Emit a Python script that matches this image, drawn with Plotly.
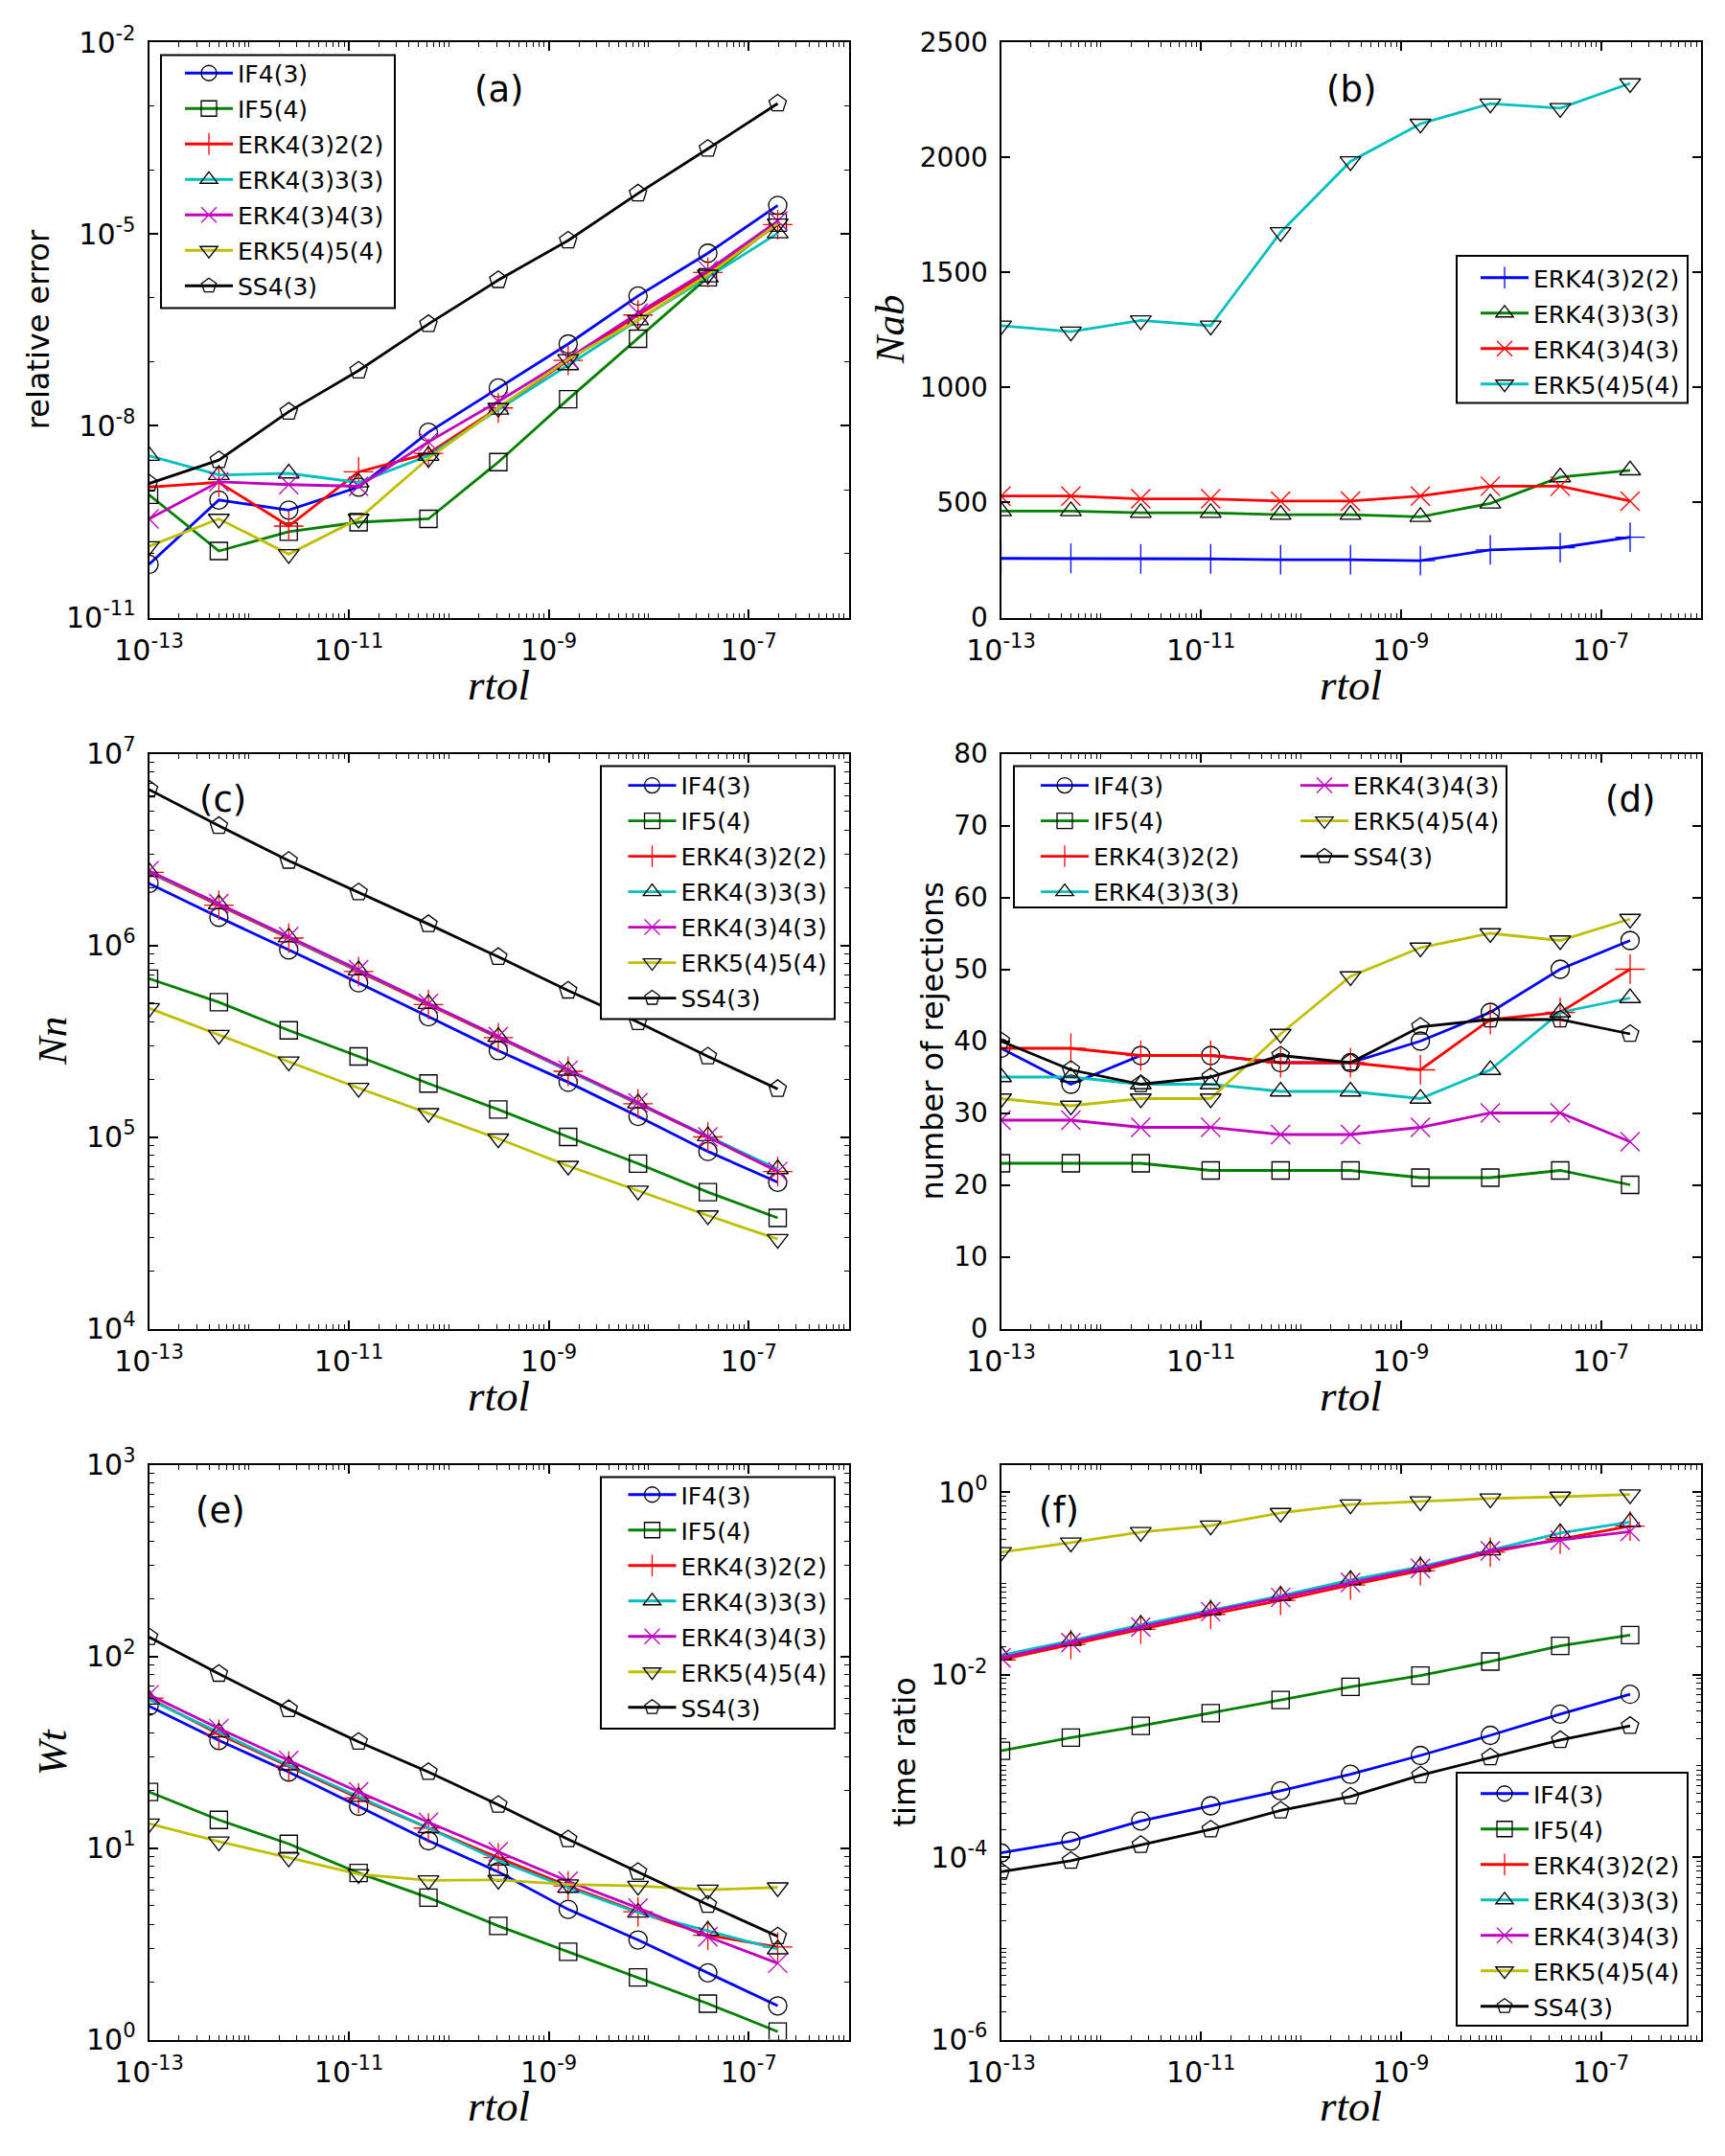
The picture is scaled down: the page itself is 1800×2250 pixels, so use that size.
import plotly.graph_objects as go

# ---------------- data ----------------
rtol = [1e-13, 5e-13, 2.5e-12, 1.25e-11, 6.25e-11, 3.125e-10, 1.5625e-9, 7.8125e-9, 3.90625e-8, 1.953125e-7]

x_tickvals = [1e-13, 1e-11, 1e-9, 1e-7]
x_ticktext = ["10<sup>-13</sup>", "10<sup>-11</sup>", "10<sup>-9</sup>", "10<sup>-7</sup>"]

# (a) relative error
err_if43 = [6.8e-11, 6.9e-10, 4.8e-10, 1.1e-9, 7.9e-9, 3.9e-8, 1.9e-7, 1.07e-6, 5.0e-6, 2.8e-5]
err_if54 = [8.3e-10, 1.1e-10, 2.2e-10, 3.1e-10, 3.5e-10, 2.7e-9, 2.6e-8, 2.3e-7, 2.1e-6, 1.5e-5]
err_erk4322 = [1.1e-9, 1.3e-9, 2.7e-10, 1.9e-9, 3.7e-9, 1.9e-8, 1.05e-7, 5.4e-7, 2.5e-6, 1.4e-5]
err_erk4333 = [3.4e-9, 1.7e-9, 1.8e-9, 1.3e-9, 3.4e-9, 1.8e-8, 8.9e-8, 4.5e-7, 2.1e-6, 1.03e-5]
err_erk4343 = [3.5e-10, 1.33e-9, 1.2e-9, 1.13e-9, 5.6e-9, 2.4e-8, 1.13e-7, 5.8e-7, 2.7e-6, 1.6e-5]
err_erk5454 = [1.3e-10, 3.5e-10, 9.8e-11, 3.5e-10, 3.1e-9, 1.9e-8, 1.1e-7, 4.5e-7, 2.3e-6, 1.45e-5]
err_ss43 = [1.25e-9, 2.9e-9, 1.66e-8, 7.3e-8, 3.9e-7, 1.9e-6, 7.9e-6, 4.3e-5, 2.15e-4, 1.1e-3]
a_tickvals = [1e-11, 1e-8, 1e-5, 1e-2]
a_ticktext = ["10<sup>-11</sup>", "10<sup>-8</sup>", "10<sup>-5</sup>", "10<sup>-2</sup>"]

# (b) Nab
nab_erk4322 = [257, 257, 255, 255, 251, 251, 247, 294, 304, 349]
nab_erk4333 = [463, 463, 455, 455, 447, 447, 438, 496, 610, 640]
nab_erk4343 = [528, 528, 516, 516, 506, 506, 528, 571, 571, 506]
nab_erk5454 = [1268, 1242, 1291, 1268, 1674, 1982, 2145, 2233, 2213, 2321]

# (c) Nn
nn_if43 = [2.1e6, 1.4e6, 9.46e5, 6.37e5, 4.24e5, 2.82e5, 1.93e5, 1.28e5, 8.4e4, 5.8e4]
nn_if54 = [6.7e5, 5.05e5, 3.6e5, 2.63e5, 1.9e5, 1.39e5, 1.0e5, 7.26e4, 5.15e4, 3.78e4]
nn_erk4322 = [2.4e6, 1.62e6, 1.09e6, 7.3e5, 4.9e5, 3.3e5, 2.2e5, 1.49e5, 1.0e5, 6.6e4]
nn_erk4333 = [2.42e6, 1.64e6, 1.1e6, 7.4e5, 4.95e5, 3.33e5, 2.22e5, 1.5e5, 1.01e5, 6.8e4]
nn_erk4343 = [2.45e6, 1.65e6, 1.11e6, 7.45e5, 4.97e5, 3.34e5, 2.23e5, 1.51e5, 1.0e5, 6.6e4]
nn_erk5454 = [4.7e5, 3.4e5, 2.47e5, 1.8e5, 1.33e5, 9.8e4, 7.06e4, 5.24e4, 3.89e4, 2.93e4]
nn_ss43 = [6.5e6, 4.2e6, 2.76e6, 1.89e6, 1.29e6, 8.7e5, 5.8e5, 3.97e5, 2.63e5, 1.78e5]
c_tickvals = [1e4, 1e5, 1e6, 1e7]
c_ticktext = ["10<sup>4</sup>", "10<sup>5</sup>", "10<sup>6</sup>", "10<sup>7</sup>"]

# (d) number of rejections
rej_if43 = [39, 34, 38, 38, 37, 37, 40, 44, 50, 54]
rej_if54 = [23, 23, 23, 22, 22, 22, 21, 21, 22, 20]
rej_erk4322 = [39, 39, 38, 38, 37, 37, 36, 43, 44, 50]
rej_erk4333 = [35, 35, 34, 34, 33, 33, 32, 36, 44, 46]
rej_erk4343 = [29, 29, 28, 28, 27, 27, 28, 30, 30, 26]
rej_erk5454 = [32, 31, 32, 32, 41, 49, 53, 55, 54, 57]
rej_ss43 = [40, 36, 34, 35, 38, 37, 42, 43, 43, 41]

# (e) Wt
wt_if43 = [55, 36.4, 24.9, 16.5, 10.9, 7.5, 4.78, 3.31, 2.23, 1.5]
wt_if54 = [19.6, 14.0, 10.5, 7.4, 5.5, 3.92, 2.87, 2.11, 1.54, 1.1]
wt_erk4322 = [60.5, 39.2, 26.7, 18.2, 12.7, 8.9, 6.33, 4.64, 3.5, 3.04]
wt_erk4333 = [59.5, 40.1, 27.0, 18.5, 12.7, 8.6, 6.2, 4.6, 3.7, 2.96]
wt_erk4343 = [63, 42, 28.6, 19.6, 13.6, 9.55, 6.7, 4.86, 3.44, 2.5]
wt_erk5454 = [13.4, 10.8, 8.9, 7.3, 6.77, 6.81, 6.44, 6.33, 6.05, 6.22]
wt_ss43 = [126, 81, 53, 35.8, 24.9, 16.8, 11.1, 7.5, 5.05, 3.46]
e_tickvals = [1, 10, 100, 1000]
e_ticktext = ["10<sup>0</sup>", "10<sup>1</sup>", "10<sup>2</sup>", "10<sup>3</sup>"]

# (f) time ratio
tr_if43 = [1.11e-4, 1.5e-4, 2.49e-4, 3.65e-4, 5.33e-4, 8.07e-4, 1.3e-3, 2.16e-3, 3.69e-3, 6.08e-3]
tr_if54 = [1.46e-3, 2.04e-3, 2.74e-3, 3.78e-3, 5.27e-3, 7.35e-3, 9.77e-3, 1.39e-2, 2.06e-2, 2.71e-2]
tr_erk4322 = [0.0145, 0.0214, 0.0313, 0.0457, 0.065, 0.096, 0.138, 0.22, 0.305, 0.425]
tr_erk4333 = [0.0163, 0.0235, 0.0352, 0.051, 0.073, 0.109, 0.152, 0.23, 0.356, 0.47]
tr_erk4343 = [0.0153, 0.0224, 0.0332, 0.049, 0.07, 0.102, 0.146, 0.227, 0.298, 0.37]
tr_erk5454 = [0.22, 0.28, 0.365, 0.43, 0.59, 0.73, 0.79, 0.85, 0.89, 0.94]
tr_ss43 = [6.9e-5, 9.1e-5, 1.36e-4, 2.01e-4, 3.24e-4, 4.62e-4, 7.88e-4, 1.24e-3, 1.92e-3, 2.74e-3]
f_tickvals = [1e-6, 1e-4, 1e-2, 1]
f_ticktext = ["10<sup>-6</sup>", "10<sup>-4</sup>", "10<sup>-2</sup>", "10<sup>0</sup>"]

methods = ["IF4(3)", "IF5(4)", "ERK4(3)2(2)", "ERK4(3)3(3)", "ERK4(3)4(3)", "ERK5(4)5(4)", "SS4(3)"]
erk_methods = ["ERK4(3)2(2)", "ERK4(3)3(3)", "ERK4(3)4(3)", "ERK5(4)5(4)"]

# ---------------- styling ----------------
W, H = 1800, 2250
def px(x):
    return x / W
def py(y):
    return 1 - y / H

FONT = "DejaVu Sans"
MATH = "Liberation Serif"
BLUE, GREEN, RED, CYAN, MAG, YEL, BLACK = "#0000ff", "#008000", "#ff0000", "#00bfbf", "#bf00bf", "#bfbf00", "#000000"

# (line colour, marker symbol, marker colour, marker size)
style = {
    "IF4(3)": (BLUE, "circle-open", BLACK, 19),
    "IF5(4)": (GREEN, "square-open", BLACK, 18),
    "ERK4(3)2(2)": (RED, "cross-thin-open", RED, 22),
    "ERK4(3)3(3)": (CYAN, "triangle-up-open", BLACK, 19),
    "ERK4(3)4(3)": (MAG, "x-thin-open", MAG, 20),
    "ERK5(4)5(4)": (YEL, "triangle-down-open", BLACK, 19),
    "SS4(3)": (BLACK, "pentagon-open", BLACK, 19),
}
style_b = {
    "ERK4(3)2(2)": (BLUE, "cross-thin-open", BLUE, 22),
    "ERK4(3)3(3)": (GREEN, "triangle-up-open", BLACK, 19),
    "ERK4(3)4(3)": (RED, "x-thin-open", RED, 20),
    "ERK5(4)5(4)": (CYAN, "triangle-down-open", BLACK, 19),
}

fig = go.Figure()

def add(panel, name, y, st, legend):
    lc, sym, mc, ms = st
    sfx = "" if panel == 1 else str(panel)
    fig.add_trace(go.Scatter(
        x=rtol, y=y, name=name, mode="lines+markers",
        xaxis="x" + sfx, yaxis="y" + sfx,
        line=dict(color=lc, width=2.8),
        marker=dict(symbol=sym, size=ms, color=mc, line=dict(color=mc, width=1.3)),
        legend=legend, legendgroup=f"p{panel}_{name}",
    ))

series_a = [err_if43, err_if54, err_erk4322, err_erk4333, err_erk4343, err_erk5454, err_ss43]
series_b = [nab_erk4322, nab_erk4333, nab_erk4343, nab_erk5454]
series_c = [nn_if43, nn_if54, nn_erk4322, nn_erk4333, nn_erk4343, nn_erk5454, nn_ss43]
series_d = [rej_if43, rej_if54, rej_erk4322, rej_erk4333, rej_erk4343, rej_erk5454, rej_ss43]
series_e = [wt_if43, wt_if54, wt_erk4322, wt_erk4333, wt_erk4343, wt_erk5454, wt_ss43]
series_f = [tr_if43, tr_if54, tr_erk4322, tr_erk4333, tr_erk4343, tr_erk5454, tr_ss43]

for m, y in zip(methods, series_a):
    add(1, m, y, style[m], "legend")
for m, y in zip(erk_methods, series_b):
    add(2, m, y, style_b[m], "legend2")
for m, y in zip(methods, series_c):
    add(3, m, y, style[m], "legend3")
for i, (m, y) in enumerate(zip(methods, series_d)):
    add(4, m, y, style[m], "legend4" if i < 4 else "legend5")
for m, y in zip(methods, series_e):
    add(5, m, y, style[m], "legend6")
for m, y in zip(methods, series_f):
    add(6, m, y, style[m], "legend7")

# ---------------- axes ----------------
col_x = [(155.5, 885.5), (1044.5, 1775.0)]
row_y = [(44.0, 644.5), (786.5, 1386.5), (1528.5, 2128.5)]
logfont = dict(family=FONT, size=30, color="black")
linfont = dict(family=FONT, size=28, color="black")

def base_axis(font):
    return dict(showline=True, linecolor="black", linewidth=2, mirror="allticks",
                ticks="inside", ticklen=9, tickwidth=1.5, tickcolor="black",
                showgrid=False, zeroline=False, tickfont=font, ticklabelstandoff=6)

minor_d1 = dict(ticks="inside", ticklen=5, tickwidth=1, tickcolor="black", dtick="D1", showgrid=False)
minor_dec = dict(ticks="inside", ticklen=5, tickwidth=1, tickcolor="black", dtick=1, showgrid=False)

yaxes = {
    1: dict(type="log", range=[-11, -2], tickmode="array", tickvals=a_tickvals, ticktext=a_ticktext, minor=minor_dec),
    2: dict(type="linear", range=[0, 2500], dtick=500, tick0=0),
    3: dict(type="log", range=[4, 7], tickmode="array", tickvals=c_tickvals, ticktext=c_ticktext, minor=minor_d1),
    4: dict(type="linear", range=[0, 80], dtick=10, tick0=0),
    5: dict(type="log", range=[0, 3], tickmode="array", tickvals=e_tickvals, ticktext=e_ticktext, minor=minor_d1),
    6: dict(type="log", range=[-6, 0.30103], tickmode="array", tickvals=f_tickvals, ticktext=f_ticktext, minor=minor_d1),
}

layout_axes = {}
for p in range(1, 7):
    r, c = (p - 1) // 2, (p - 1) % 2
    sfx = "" if p == 1 else str(p)
    xa = base_axis(logfont)
    xa.update(type="log", range=[-13, -6], tickmode="array", tickvals=x_tickvals, ticktext=x_ticktext,
              minor=minor_d1, domain=[px(col_x[c][0]), px(col_x[c][1])], anchor="y" + sfx)
    ya = base_axis(linfont if yaxes[p]["type"] == "linear" else logfont)
    ya.update(yaxes[p])
    ya.update(domain=[py(row_y[r][1]), py(row_y[r][0])], anchor="x" + sfx)
    layout_axes["xaxis" + sfx] = xa
    layout_axes["yaxis" + sfx] = ya

fig.update_layout(**layout_axes)

# ---------------- legends ----------------
def leg(left, top):
    return dict(x=px(left), y=py(top), xanchor="left", yanchor="top", xref="paper", yref="paper",
                bgcolor="rgba(0,0,0,0)", borderwidth=0, font=dict(family=FONT, size=25, color="black"),
                itemwidth=50, traceorder="grouped", tracegroupgap=1.5)

fig.update_layout(
    legend=leg(188, 53.5),
    legend2=leg(1540, 267),
    legend3=leg(650.5, 796.8),
    legend4=leg(1081, 796.8),
    legend5=leg(1352, 796.8),
    legend6=leg(650.5, 1537),
    legend7=leg(1540, 1849),
)

legend_boxes = [
    (168, 57.4, 412, 321.5),
    (1520, 267, 1761, 420.6),
    (627, 799.5, 871, 1063.6),
    (1058, 799.5, 1572, 947),
    (627, 1541.6, 871, 1804),
    (1520, 1850, 1761, 2114),
]
shapes = []
for (x0, y0, x1, y1) in legend_boxes:
    shapes.append(dict(type="rect", xref="paper", yref="paper", x0=px(x0), x1=px(x1), y0=py(y1), y1=py(y0),
                       line=dict(color="black", width=2), fillcolor="white", layer="above"))

# ---------------- annotations ----------------
ann = []
def note(text, x, y, size, family=FONT, angle=0):
    ann.append(dict(text=text, x=px(x), y=py(y), xref="paper", yref="paper", showarrow=False,
                    xanchor="center", yanchor="middle", textangle=angle,
                    font=dict(family=family, size=size, color="black")))

panel_labels = [("(a)", 521, 93), ("(b)", 1409.6, 93), ("(c)", 232.5, 834),
                ("(d)", 1701, 834), ("(e)", 229.7, 1576), ("(f)", 1105, 1576)]
for t, x, y in panel_labels:
    note(t, x, y, 37)

for r, yy in enumerate([714.8, 1456.9, 2197.6]):
    for c in range(2):
        note("<i>rtol</i>", (col_x[c][0] + col_x[c][1]) / 2, yy, 45, MATH)

ycent = [(a + b) / 2 for a, b in row_y]
note("relative error", 40, ycent[0], 32, FONT, -90)
note("<i>Nab</i>", 928, ycent[0], 43, MATH, -90)
note("<i>Nn</i>", 54.5, ycent[1], 43, MATH, -90)
note("number of rejections", 972, ycent[1], 32, FONT, -90)
note("<i>Wt</i>", 54.5, ycent[2], 43, MATH, -90)
note("time ratio", 943, ycent[2], 32, FONT, -90)

fig.update_layout(
    width=W, height=H, margin=dict(l=0, r=0, t=0, b=0, autoexpand=False),
    paper_bgcolor="white", plot_bgcolor="white",
    shapes=shapes, annotations=ann, showlegend=True,
)

fig.write_html("out.html")
